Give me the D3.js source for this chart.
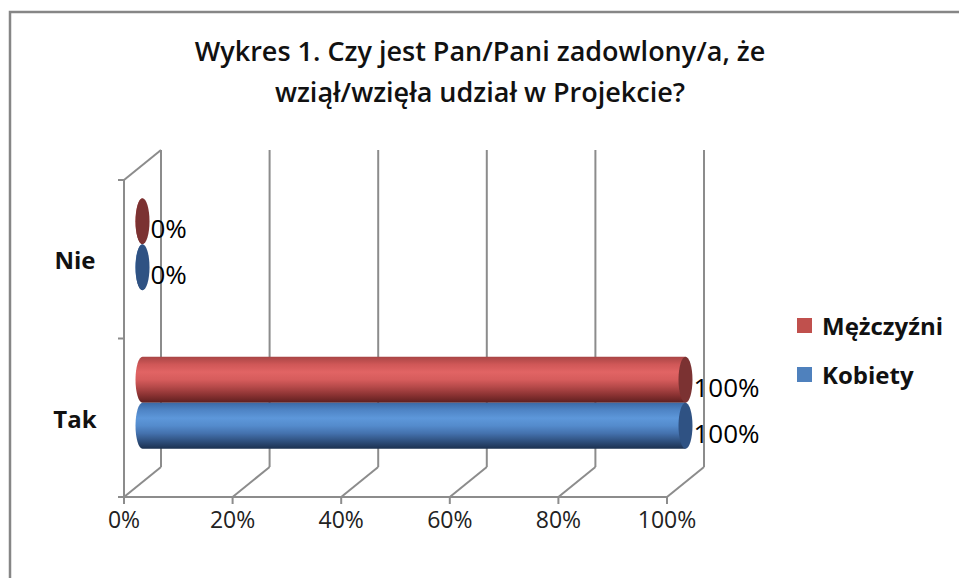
<!DOCTYPE html>
<html>
<head>
<meta charset="utf-8">
<title>Wykres 1</title>
<style>
    body {
        margin: 0;
        background: white;
        font-family: "Open Sans", "Noto Sans", sans-serif;
    }
    .grid line {
        stroke: #8c8c8c;
        stroke-width: 2px;
    }
    .tick-label {
        font-size: 23px;
        fill: #222;
    }
</style>
</head>
<body>
<svg id="chart" width="959" height="578"></svg>
<script src="https://d3js.org/d3.v7.min.js"></script>
<script>
    var categories = ["Nie", "Tak"];
    var seriesNames = ["Mężczyźni", "Kobiety"];
    var menValues = [0, 100];
    var womenValues = [0, 100];
    var tickValues = [0, 20, 40, 60, 80, 100];
    var titleLines = ["Wykres 1. Czy jest Pan/Pani zadowlony/a, że", "wziął/wzięła udział w Projekcie?"];

    var svg = d3.select("#chart");

    // frame around the chart area
    svg.append("rect")
        .attr("x", 10).attr("y", 12)
        .attr("width", 960).attr("height", 580)
        .attr("fill", "white")
        .attr("stroke", "#868686")
        .attr("stroke-width", 2.5);

    // title
    svg.append("g").selectAll("text")
        .data(titleLines)
        .enter().append("text")
        .attr("x", 480)
        .attr("y", function(d, i) { return 61 + i * 41; })
        .attr("text-anchor", "middle")
        .style("font-size", "27px")
        .style("font-weight", 600)
        .style("fill", "#111")
        .text(function(d) { return d; });

    // front plane scales + depth offset
    var x = d3.scaleLinear().domain([0, 100]).range([124, 667]);
    var y = d3.scaleBand().domain(categories).range([180, 497]);
    var depth = { dx: 37, dy: -30 };

    var grid = svg.append("g").attr("class", "grid");

    // back wall vertical lines
    grid.selectAll(".back")
        .data(tickValues)
        .enter().append("line")
        .attr("x1", function(d) { return x(d) + depth.dx; })
        .attr("x2", function(d) { return x(d) + depth.dx; })
        .attr("y1", 180 + depth.dy)
        .attr("y2", 497 + depth.dy);

    // floor diagonals
    grid.selectAll(".floor")
        .data(tickValues)
        .enter().append("line")
        .attr("x1", function(d) { return x(d); })
        .attr("y1", 497)
        .attr("x2", function(d) { return x(d) + depth.dx; })
        .attr("y2", 497 + depth.dy);

    // side wall: front axis, top diagonal
    grid.append("line").attr("x1", x(0)).attr("x2", x(0)).attr("y1", 180).attr("y2", 497);
    grid.append("line").attr("x1", x(0)).attr("y1", 180).attr("x2", x(0) + depth.dx).attr("y2", 180 + depth.dy);

    // bottom axis with ticks
    grid.append("line").attr("x1", x(0) - 6).attr("x2", x(100)).attr("y1", 497).attr("y2", 497);
    grid.selectAll(".xtick")
        .data(tickValues)
        .enter().append("line")
        .attr("x1", function(d) { return x(d); })
        .attr("x2", function(d) { return x(d); })
        .attr("y1", 497).attr("y2", 504);

    // category ticks on left
    var catEdges = [180].concat(categories.map(function(c) { return y(c) + y.bandwidth(); }));
    grid.selectAll(".ytick")
        .data(catEdges)
        .enter().append("line")
        .attr("x1", x(0) - 6).attr("x2", x(0))
        .attr("y1", function(d) { return d; })
        .attr("y2", function(d) { return d; });

    // x tick labels
    svg.append("g").selectAll("text")
        .data(tickValues)
        .enter().append("text")
        .attr("class", "tick-label")
        .attr("x", function(d) { return x(d); })
        .attr("y", 528)
        .attr("text-anchor", "middle")
        .text(function(d) { return d + "%"; });

    // category labels
    svg.append("g").selectAll("text")
        .data(categories)
        .enter().append("text")
        .attr("x", 75)
        .attr("y", function(d) { return y(d) + y.bandwidth() / 2 + 10; })
        .attr("text-anchor", "middle")
        .style("font-size", "24px")
        .style("font-weight", 700)
        .style("fill", "#111")
        .text(function(d) { return d; });

    // gradients for cylinders
    var defs = svg.append("defs");
    var palettes = [
        { id: "gradRed", stops: ["#a84545", "#cf5757", "#e16464", "#d65c5c", "#b34848", "#8a3232", "#5e1f1f"], cap: "#7b3232", legend: "#c0504d" },
        { id: "gradBlue", stops: ["#3b69a5", "#4f85c6", "#5d97da", "#548bcc", "#4471ad", "#2f507e", "#1b304f"], cap: "#2f5283", legend: "#4f81bd" }
    ];
    palettes.forEach(function(p) {
        var g = defs.append("linearGradient")
            .attr("id", p.id)
            .attr("x1", 0).attr("y1", 0).attr("x2", 0).attr("y2", 1);
        p.stops.forEach(function(c, i) {
            g.append("stop")
                .attr("offset", (i / (p.stops.length - 1) * 100) + "%")
                .attr("stop-color", c);
        });
    });

    // bars at mid depth
    var inner = d3.scaleBand().domain(seriesNames).range([0, y.bandwidth()]).paddingInner(0).paddingOuter(0.72);
    var rx = 7;
    var seriesData = [menValues, womenValues];

    var barData = [];
    seriesNames.forEach(function(s, si) {
        categories.forEach(function(c, ci) {
            barData.push({ series: s, si: si, cat: c, value: seriesData[si][ci] });
        });
    });

    var bars = svg.append("g").selectAll("g")
        .data(barData)
        .enter().append("g");

    function barTop(d) { return y(d.cat) + inner(d.series) + depth.dy / 2; }
    function barStart() { return x(0) + depth.dx / 2; }
    function barEnd(d) { return x(d.value) + depth.dx / 2; }

    bars.append("path")
        .attr("d", function(d) {
            var y0 = barTop(d), y1 = y0 + inner.bandwidth(), ry = inner.bandwidth() / 2;
            var xs = barStart(), xe = barEnd(d);
            return "M" + xs + "," + y0 + "L" + xe + "," + y0 + "L" + xe + "," + y1 + "L" + xs + "," + y1 +
                "A" + rx + "," + ry + " 0 0 1 " + xs + "," + y0 + "Z";
        })
        .attr("fill", function(d) { return "url(#" + palettes[d.si].id + ")"; });

    bars.append("ellipse")
        .attr("cx", barEnd)
        .attr("cy", function(d) { return barTop(d) + inner.bandwidth() / 2; })
        .attr("rx", rx)
        .attr("ry", inner.bandwidth() / 2)
        .attr("fill", function(d) { return palettes[d.si].cap; });

    bars.append("text")
        .attr("x", function(d) { return barEnd(d) + rx + 1; })
        .attr("y", function(d) { return barTop(d) + inner.bandwidth() / 2 + 17; })
        .style("font-size", "26px")
        .style("font-weight", 500)
        .style("fill", "#000")
        .text(function(d) { return d.value + "%"; });

    // legend
    var legend = svg.append("g").selectAll("g")
        .data(seriesNames)
        .enter().append("g")
        .attr("transform", function(d, i) { return "translate(797," + (318 + i * 49) + ")"; });
    legend.append("rect")
        .attr("width", 15).attr("height", 15)
        .attr("fill", function(d, i) { return palettes[i].legend; });
    legend.append("text")
        .attr("x", 25).attr("y", 17)
        .style("font-size", "24px")
        .style("font-weight", 700)
        .style("fill", "#111")
        .text(function(d) { return d; });
</script>
</body>
</html>
